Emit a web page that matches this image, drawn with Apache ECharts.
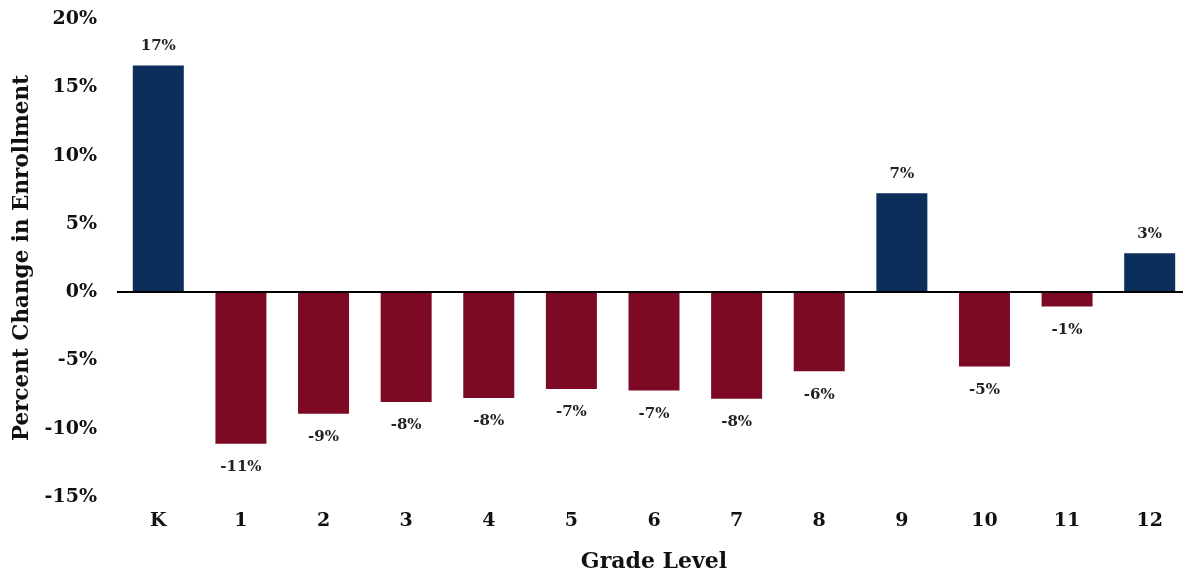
<!DOCTYPE html>
<html><head><meta charset="utf-8">
<script src="https://cdn.jsdelivr.net/npm/echarts@6/dist/echarts.min.js"></script>
<style>html,body{margin:0;padding:0;background:#fff}#c{width:1183px;height:573px}</style>
</head><body><div id="c"></div>
<script>
const categories = ['K','1','2','3','4','5','6','7','8','9','10','11','12'];
const values = [16.6, -11.1, -8.9, -8.05, -7.75, -7.1, -7.2, -7.8, -5.8, 7.25, -5.45, -1.05, 2.85];
const yTicks = [-15, -10, -5, 0, 5, 10, 15, 20];
const posColor = '#0B2E5A';
const negColor = '#7D0A25';
const FONT = 'DejaVu Serif';

const chart = echarts.init(document.getElementById('c'), null, {renderer:'canvas'});
chart.setOption({
  animation:false,
  textStyle:{fontFamily:FONT},
  grid:{left:117, width:1074, top:19, height:478, containLabel:false, outerBoundsMode:'none'},
  xAxis:{type:'category', data:categories, position:'bottom',
    axisLine:{show:false, onZero:false}, axisTick:{show:false},
    axisLabel:{fontFamily:FONT, fontWeight:'bold', fontSize:19, color:'#111', margin:15},
    name:'Grade Level', nameLocation:'middle', nameGap:54,
    nameTextStyle:{fontFamily:FONT, fontWeight:'bold', fontSize:22, color:'#111'}},
  yAxis:{type:'value', min:yTicks[0], max:yTicks[yTicks.length-1], interval:5,
    splitLine:{show:false}, axisLine:{show:false}, axisTick:{show:false},
    axisLabel:{fontFamily:FONT, fontWeight:'bold', fontSize:19, color:'#111', margin:20, formatter:v=>v+'%'},
    name:'Percent Change in Enrollment', nameLocation:'middle', nameGap:80,
    nameTextStyle:{fontFamily:FONT, fontWeight:'bold', fontSize:21.5, color:'#111'}},
  series:[{type:'bar', barWidth:51,
    data:values.map(v=>({value:v, itemStyle:{color:v>=0?posColor:negColor},
      label:{position:v>=0?'top':'bottom', distance:v>=0?12:16}})),
    label:{show:true, fontFamily:FONT, fontWeight:'bold', fontSize:15, color:'#222',
      formatter:p=>Math.round(p.value)+'%'},
    markLine:{silent:true, symbol:'none', label:{show:false},
      lineStyle:{color:'#000', width:2, type:'solid'}, data:[{yAxis:0}]}
  }]
});
</script></body></html>
